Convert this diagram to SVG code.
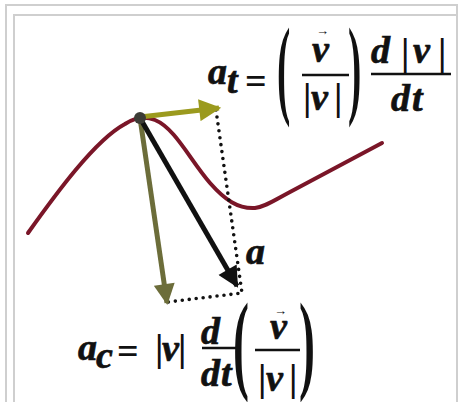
<svg xmlns="http://www.w3.org/2000/svg" width="458" height="402" viewBox="0 0 458 402">
<defs>
<style>
.frame{fill:none;stroke:#cfcfcf;stroke-width:2}
.curve{fill:none;stroke:#7a1628;stroke-width:4;stroke-linecap:round;stroke-linejoin:round}
.dot{fill:none;stroke:#111;stroke-width:3.6;stroke-linecap:round;stroke-dasharray:0 7}
.m{font-family:"Liberation Serif","Times New Roman",serif;font-weight:bold;font-style:italic;font-size:38px;fill:#111;stroke:#111;stroke-width:0.7}
.u{font-family:"Liberation Serif","Times New Roman",serif;font-weight:bold;font-size:38px;fill:#111}
.p{font-family:"Liberation Serif","Times New Roman",serif;font-size:40px;font-weight:bold;fill:#111}
.ar{font-family:"Liberation Serif","Times New Roman",serif;font-size:13px;font-weight:bold;fill:#111}
.bar{stroke:#111;stroke-width:2.6}
</style>
<marker id="hy" viewBox="0 0 10 10" refX="9" refY="5" markerWidth="4.6" markerHeight="4.4" orient="auto" markerUnits="strokeWidth"><path d="M0,0 L10,5 L0,10 z" fill="#9b9a1e"/></marker>
<marker id="hg" viewBox="0 0 10 10" refX="9" refY="5" markerWidth="4.4" markerHeight="4.2" orient="auto" markerUnits="strokeWidth"><path d="M0,0 L10,5 L0,10 z" fill="#6c6d3a"/></marker>
<marker id="hk" viewBox="0 0 10 10" refX="9" refY="5" markerWidth="4.4" markerHeight="4.2" orient="auto" markerUnits="strokeWidth"><path d="M0,0 L10,5 L0,10 z" fill="#111"/></marker>
</defs>
<rect width="458" height="402" fill="#fff"/>
<rect class="frame" x="6" y="5" width="451" height="420"/>
<rect class="frame" x="14" y="15" width="470" height="420"/>

<g id="curve">
<path class="curve" d="M28,233 C55,195 95,140 125,124 Q140,114 155,120 C175,128 190,160 210,183 C225,200 238,209 255,208 C265,207 275,200 290,192 L382,143"/>
</g>

<g id="connectors">
<path class="dot" d="M216,110 L242,293 L168,302"/>
<line x1="140" y1="117" x2="219" y2="108" stroke="#9b9a1e" stroke-width="5" marker-end="url(#hy)"/>
<line x1="140" y1="118" x2="167" y2="303" stroke="#6c6d3a" stroke-width="5" marker-end="url(#hg)"/>
<line x1="140" y1="118" x2="237" y2="286" stroke="#111" stroke-width="5" marker-end="url(#hk)"/>
</g>

<g id="point">
<circle cx="140" cy="118" r="6" fill="#3c3c36"/>
</g>

<g id="label-a">
<text class="m" x="246" y="264">a</text>
</g>

<g id="formula-at">
<text class="m" x="208" y="84">a</text>
<text class="m" x="227" y="93" font-size="27">t</text>
<text class="u" x="245" y="94" font-size="50">=</text>
<text class="p" transform="translate(277,104) scale(1,2.75)">(</text>
<text class="ar" x="316" y="35">→</text>
<text class="m" x="312" y="62">v</text>
<line class="bar" x1="302" y1="75" x2="349" y2="75"/>
<text class="u" x="303" y="110">|</text>
<text class="m" x="311" y="110">v</text>
<text class="u" x="334" y="110">|</text>
<text class="p" transform="translate(348,104) scale(1,2.75)">)</text>
<text class="m" x="371" y="63">d</text>
<text class="u" font-size="46" x="401" y="65">|</text>
<text class="m" x="413" y="63">v</text>
<text class="u" font-size="46" x="438" y="65">|</text>
<line class="bar" x1="371" y1="74" x2="451" y2="74"/>
<text class="m" x="391" y="111">d</text>
<text class="m" x="412" y="111">t</text>
</g>

<g id="formula-ac">
<text class="m" x="78" y="360">a</text>
<text class="m" x="96" y="368" font-size="25">c</text>
<text class="u" x="117" y="364" font-size="40">=</text>
<text class="u" x="155" y="361">|</text>
<text class="m" x="162" y="361">v</text>
<text class="u" x="178" y="361">|</text>
<text class="m" x="201" y="344">d</text>
<line class="bar" x1="202" y1="348" x2="236" y2="348"/>
<text class="m" x="201" y="386">d</text>
<text class="m" x="221" y="386">t</text>
<text class="p" transform="translate(233,379) scale(1.2,2.75)">(</text>
<text class="ar" x="274" y="315">→</text>
<text class="m" x="270" y="339">v</text>
<line class="bar" x1="255" y1="350" x2="300" y2="350"/>
<text class="u" x="258" y="391">|</text>
<text class="m" x="266" y="391">v</text>
<text class="u" x="289" y="391">|</text>
<text class="p" transform="translate(299,379) scale(1.2,2.75)">)</text>
</g>
</svg>
